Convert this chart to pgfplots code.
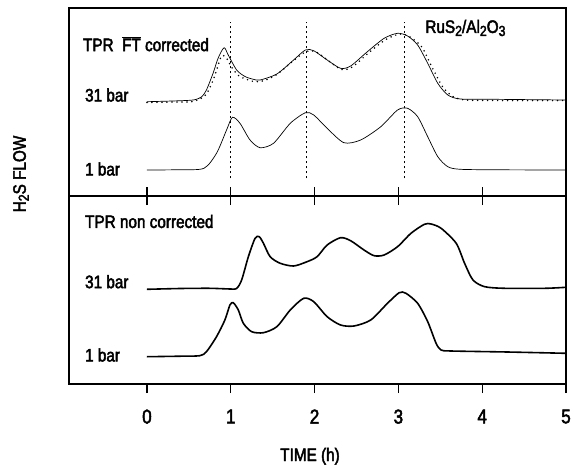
\documentclass[border=0pt]{standalone}
\usepackage{fontspec}
\setmainfont{Liberation Sans}[FakeStretch=0.85, FakeBold=2.5]
\usepackage{pgfplots}
\pgfplotsset{compat=1.18}
\newcommand{\sub}[1]{\raisebox{-0.32ex}{\fontsize{14.5}{15}\selectfont #1}}
\begin{document}
\begin{tikzpicture}[font=\fontsize{18}{21}\selectfont]
\useasboundingbox (0,0) rectangle (576pt,467pt);
% ---------- top panel ----------
\begin{axis}[
  at={(69pt,271pt)}, anchor=south west,
  width=497pt, height=188pt, scale only axis,
  xmin=-0.93, xmax=5.0, ymin=0, ymax=188,
  axis line style={line width=1.5pt},
  xtick={0,1,2,3,4,5}, xticklabels={},
  xtick pos=lower, tick align=outside,
  major tick length=9pt,
  tick style={line width=1.2pt, black},
  ytick=\empty,
  clip=false,
]
% 31 bar solid
\addplot[black, line width=0.7pt, smooth, tension=0.45] coordinates {
(0,94.3) (0.3,95) (0.55,96) (0.65,99) (0.71,106) (0.79,123) (0.85,138) (0.92,148.3) (0.97,141)
(1.07,126) (1.17,119.5) (1.27,116.7) (1.35,116) (1.55,122) (1.75,136) (1.89,146) (1.99,145.3)
(2.15,136) (2.31,127.7) (2.43,130) (2.63,144.3) (2.83,157.7) (2.99,162.7) (3.11,160) (3.23,151)
(3.35,132.7) (3.47,112.7) (3.59,101) (3.74,97) (4.14,96.7) (5.0,96)
};
% FT corrected (dotted)
\addplot[black, line width=1.7pt, line cap=round, dash pattern=on 0pt off 5pt, smooth, tension=0.45] coordinates {
(0,93.5) (0.3,94) (0.55,94.5) (0.7,101) (0.79,116) (0.85,131) (0.89,140) (0.94,139) (1.01,129)
(1.1,120) (1.27,114.5) (1.4,115.5) (1.55,121.5) (1.75,135.5) (1.9,144.5) (2.02,144) (2.17,135) (2.32,126.5)
(2.45,129) (2.65,143.5) (2.85,156.5) (3.02,162) (3.14,159) (3.28,149) (3.4,129) (3.53,109) (3.65,99.5)
(3.8,96) (4.2,95.5) (5.0,95.5)
};
% 1 bar
\addplot[black, line width=0.7pt, smooth, tension=0.45] coordinates {
(0,26) (0.4,26.3) (0.68,27.7) (0.83,42.7) (0.95,66) (1.02,78.7) (1.11,72.7) (1.23,56) (1.35,48.3)
(1.51,52.7) (1.71,72.7) (1.89,83.3) (1.99,81) (2.15,67.7) (2.35,53.3) (2.55,56) (2.79,69.3)
(2.99,86) (3.11,87.7) (3.23,79.3) (3.35,59.3) (3.47,39.3) (3.59,29.3) (3.74,26.7) (4.2,26.2) (5.0,26)
};
% vertical dotted guides
\addplot[black, line width=1.1pt, dash pattern=on 2pt off 3pt] coordinates {(1.0,17.7) (1.0,174.3)};
\addplot[black, line width=1.1pt, dash pattern=on 2pt off 3pt] coordinates {(1.90,17.7) (1.90,174.3)};
\addplot[black, line width=1.1pt, dash pattern=on 2pt off 3pt] coordinates {(3.07,17.7) (3.07,174.3)};
\node[anchor=west, inner sep=0pt] at (axis cs:-0.765,152) {TPR\ \ $\overline{\mbox{FT}}$ corrected};
\node[anchor=west, inner sep=0pt] at (axis cs:-0.74,101) {31 bar};
\node[anchor=west, inner sep=0pt] at (axis cs:-0.74,27) {1 bar};
\node[anchor=west, inner sep=0pt] at (axis cs:3.32,168) {RuS\sub{2}/Al\sub{2}O\sub{3}};
\end{axis}
% ---------- bottom panel ----------
\begin{axis}[
  at={(69pt,83pt)}, anchor=south west,
  width=497pt, height=188pt, scale only axis,
  xmin=-0.93, xmax=5.0, ymin=0, ymax=188,
  axis line style={line width=1.5pt},
  xtick={0,1,2,3,4,5},
  xtick pos=both, tick align=outside,
  major tick length=9pt,
  tick style={line width=1.2pt, black},
  ytick=\empty,
  xticklabel style={font=\fontsize{20}{23}\selectfont, yshift=-13pt},
  /pgf/number format/assume math mode=true,
  clip=false,
]
\addplot[black, line width=1.6pt, smooth, tension=0.45] coordinates {
(0,94.7) (0.4,95.5) (0.75,95.7) (1.0,95) (1.07,95.5) (1.13,104) (1.21,127.3) (1.29,145.7) (1.34,147.3)
(1.39,140.7) (1.47,127.3) (1.59,120.7) (1.75,118) (1.91,122.3) (2.03,127.3) (2.15,139) (2.31,146.3)
(2.43,143.3) (2.59,134) (2.71,128.3) (2.83,129) (2.99,137.3) (3.15,150.7) (3.31,159.7) (3.39,160)
(3.51,155.7) (3.69,140.7) (3.79,120.7) (3.89,104) (4.03,97.3) (4.27,95.7) (4.75,95.7) (5.0,96.7)
};
\addplot[black, line width=1.6pt, smooth, tension=0.45] coordinates {
(0,27.3) (0.4,27.8) (0.63,28.3) (0.71,32.3) (0.83,47.3) (0.93,64) (0.99,79) (1.03,81.3) (1.09,74)
(1.15,60.7) (1.25,52.3) (1.39,51.3) (1.55,57.3) (1.71,74) (1.87,85.7) (1.99,82.3) (2.15,67.3)
(2.31,59) (2.47,58) (2.67,64) (2.87,80.7) (3.01,91.3) (3.09,90.7) (3.23,80.7) (3.35,62.3) (3.45,40.7)
(3.51,34) (3.63,33) (4.3,32) (5.0,30.7)
};
\node[anchor=west, inner sep=0pt] at (axis cs:-0.74,162.5) {TPR non corrected};
\node[anchor=west, inner sep=0pt] at (axis cs:-0.74,102.3) {31 bar};
\node[anchor=west, inner sep=0pt] at (axis cs:-0.74,29) {1 bar};
\end{axis}
\node[anchor=base, inner sep=0pt] at (310pt,6pt) {TIME (h)};
\node[rotate=90, inner sep=0pt] at (21pt,293pt) {H\sub{2}S FLOW};
\end{tikzpicture}
\end{document}
